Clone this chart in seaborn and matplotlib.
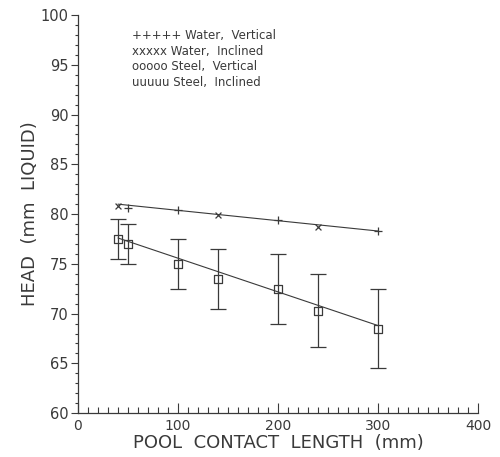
import pandas as pd
import matplotlib
matplotlib.use("Agg")
import matplotlib.pyplot as plt
from matplotlib.ticker import MultipleLocator
import seaborn as sns

# Water data
water_vert_x = [50, 100, 200, 300]
water_vert_y = [80.6, 80.4, 79.4, 78.3]
water_incl_x = [40, 140, 240]
water_incl_y = [80.8, 79.9, 78.7]
water_fit_x = [40, 300]
water_fit_y = [81.0, 78.3]

# Steel data
steel_vert_x = [50, 100, 200, 300]
steel_vert_y = [77.0, 75.0, 72.5, 68.5]
steel_vert_err = [2.0, 2.5, 3.5, 4.0]
steel_incl_x = [40, 140, 240]
steel_incl_y = [77.5, 73.5, 70.3]
steel_incl_err = [2.0, 3.0, 3.7]
steel_fit_x = [40, 300]
steel_fit_y = [77.6, 68.8]

legend_rows = ["+++++ Water,  Vertical",
               "xxxxx Water,  Inclined",
               "ooooo Steel,  Vertical",
               "uuuuu Steel,  Inclined"]

sns.set_style("ticks")
plt.rcParams["font.family"] = ["DejaVu Sans"]

ink = "#3a3a3a"

fig = plt.figure(figsize=(5, 4.57), dpi=100)
ax = fig.add_axes([0.156, 0.096, 0.8, 0.871])

# Fit lines
sns.lineplot(x=water_fit_x, y=water_fit_y, ax=ax, color=ink, lw=0.8)
sns.lineplot(x=steel_fit_x, y=steel_fit_y, ax=ax, color=ink, lw=0.8)

# Error bars
ax.errorbar(steel_vert_x, steel_vert_y, yerr=steel_vert_err, fmt="none",
            ecolor=ink, elinewidth=0.9, capsize=5.5, capthick=0.9)
ax.errorbar(steel_incl_x, steel_incl_y, yerr=steel_incl_err, fmt="none",
            ecolor=ink, elinewidth=0.9, capsize=5.5, capthick=0.9)

# Markers
sns.scatterplot(x=water_vert_x, y=water_vert_y, ax=ax, marker="+",
                color=ink, s=30, linewidth=0.9)
sns.scatterplot(x=water_incl_x, y=water_incl_y, ax=ax, marker="x",
                color=ink, s=18, linewidth=0.9)
sns.scatterplot(x=steel_vert_x, y=steel_vert_y, ax=ax, marker="s",
                facecolor="white", edgecolor=ink, s=28, linewidth=0.9)
sns.scatterplot(x=steel_incl_x, y=steel_incl_y, ax=ax, marker="s",
                facecolor="white", edgecolor=ink, s=28, linewidth=0.9)

# Legend as text rows
for i, row in enumerate(legend_rows):
    ax.text(0.135, 0.948 - i * 0.039, row, transform=ax.transAxes,
            fontsize=8.5, color=ink, va="center", ha="left")

ax.set_xlim(0, 400)
ax.set_ylim(60, 100)
ax.xaxis.set_major_locator(MultipleLocator(100))
ax.xaxis.set_minor_locator(MultipleLocator(10))
ax.yaxis.set_major_locator(MultipleLocator(5))
ax.yaxis.set_minor_locator(MultipleLocator(1))

ax.tick_params(axis="x", which="major", direction="in", length=7,
               width=0.8, color=ink, labelsize=10, labelcolor=ink, pad=4)
ax.tick_params(axis="x", which="minor", direction="in", length=4,
               width=0.8, color=ink)
ax.tick_params(axis="y", which="major", direction="out", length=5,
               width=0.8, color=ink, labelsize=10.5, labelcolor=ink, pad=2)
ax.tick_params(axis="y", which="minor", direction="out", length=2.5,
               width=0.8, color=ink)

for side in ["left", "bottom"]:
    ax.spines[side].set_color(ink)
    ax.spines[side].set_linewidth(0.9)
sns.despine(ax=ax)

ax.set_xlabel("POOL  CONTACT  LENGTH  (mm)", fontsize=13, color=ink,
              labelpad=1)
ax.set_ylabel("HEAD  (mm  LIQUID)", fontsize=13, color=ink, labelpad=1)

fig.savefig("out.png", dpi=100)
